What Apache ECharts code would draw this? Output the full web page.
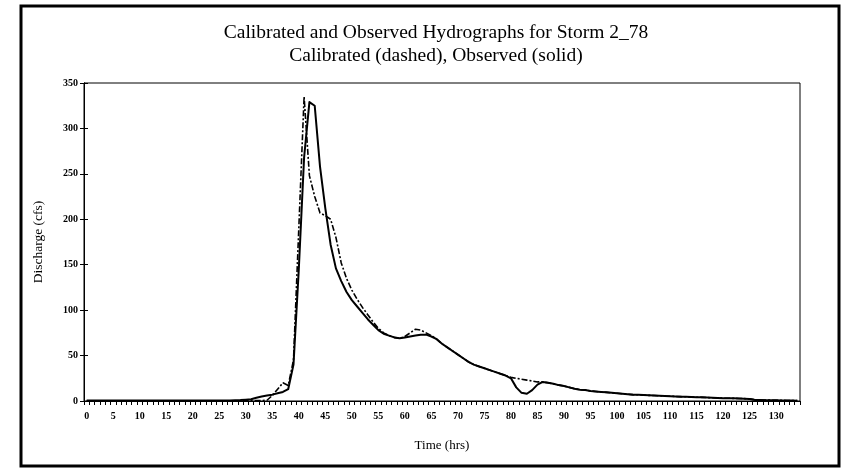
<!DOCTYPE html>
<html>
<head>
<meta charset="utf-8">
<script src="https://cdn.jsdelivr.net/npm/echarts@6/dist/echarts.min.js"></script>
<style>
  html, body { margin: 0; padding: 0; background: #fff; }
  #chart { width: 844px; height: 469px; }
</style>
</head>
<body>
<div id="chart"></div>
<script>
// hours 0..134, one category per hour
const hours = [];
for (let h = 0; h <= 134; h++) hours.push(String(h));

const yTicks = [0, 50, 100, 150, 200, 250, 300, 350];

// Observed hydrograph (solid)
const observed = [
  0.5, 0.5, 0.5, 0.5, 0.5, 0.5, 0.5, 0.5, 0.5, 0.5,
  0.5, 0.5, 0.5, 0.5, 0.5, 0.5, 0.5, 0.5, 0.5, 0.5,
  0.5, 0.5, 0.5, 0.5, 0.5, 0.5, 0.5, 0.5, 0.8, 1,
  1.5, 2, 3.5, 5, 6, 7, 8.5, 10, 13, 40,
  145, 268, 329, 325, 258, 212, 172, 146, 132, 120,
  111, 104, 97, 90, 84, 78, 74, 72, 70, 69,
  70, 71, 72, 73, 73, 71, 68, 63, 59, 55,
  51, 47, 43, 40, 38, 36, 34, 32, 30, 28,
  25, 15, 9, 8, 12, 18, 21, 20, 19, 17.5,
  16.5, 15, 13.5, 12.5, 12, 11, 10.5, 10, 9.5, 9,
  8.5, 8, 7.5, 7, 6.8, 6.5, 6.2, 6, 5.8, 5.5,
  5.3, 5, 4.8, 4.6, 4.4, 4.2, 4, 3.8, 3.5, 3.3,
  3.1, 3, 2.9, 2.8, 2.6, 2.3, 1.2, 1, 0.9, 0.8,
  0.7, 0.6, 0.5, 0.5, 0.4
];

// Calibrated hydrograph (dashed)
const calibrated = [
  0.2, 0.2, 0.2, 0.2, 0.2, 0.2, 0.2, 0.2, 0.2, 0.2,
  0.2, 0.2, 0.2, 0.2, 0.2, 0.2, 0.2, 0.2, 0.2, 0.2,
  0.2, 0.2, 0.2, 0.2, 0.2, 0.2, 0.2, 0.2, 0.2, 0.2,
  0.3, 0.3, 0.4, 0.5, 0.8, 6, 13, 20, 17, 45,
  190, 335, 248, 225, 207, 204, 200, 180, 152, 135,
  122, 112, 103, 95, 87, 80, 75, 72, 70, 69,
  71, 75, 79, 78, 75, 72, 68, 63, 59, 55,
  51, 47, 43, 40, 38, 36, 34, 32, 30, 28,
  26, 25, 24, 23, 22, 21, 21, 20, 19, 17.5,
  16.5, 15, 13.5, 12.5, 12, 11, 10.5, 10, 9.5, 9,
  8.5, 8, 7.5, 7, 6.8, 6.5, 6.2, 6, 5.8, 5.5,
  5.3, 5, 4.8, 4.6, 4.4, 4.2, 4, 3.8, 3.5, 3.3,
  3.1, 3, 2.9, 2.8, 2.6, 2.3, 1.5, 1.2, 1, 0.9,
  0.8, 0.7, 0.6, 0.5, 0.4
];

const serif = '"Liberation Serif", "DejaVu Serif", serif';
const chart = echarts.init(document.getElementById('chart'));

const yBase = {
  type: 'value',
  min: yTicks[0],
  max: yTicks[yTicks.length - 1],
  interval: 50,
  position: 'left',
  splitLine: { show: false },
  axisLine: { show: true, lineStyle: { color: '#000', width: 1 } }
};

chart.setOption({
  animation: false,
  backgroundColor: '#fff',
  title: {
    text: 'Calibrated and Observed Hydrographs for Storm 2_78\nCalibrated (dashed), Observed (solid)',
    left: 431,
    top: 16,
    textAlign: 'center',
    textStyle: {
      fontFamily: serif,
      fontSize: 19.5,
      fontWeight: 'normal',
      color: '#000',
      lineHeight: 23
    }
  },
  graphic: [{
    type: 'rect',
    shape: { x: 21, y: 6, width: 818, height: 460 },
    style: { fill: 'none', stroke: '#000', lineWidth: 3 },
    silent: true
  }],
  grid: {
    left: 84,
    right: 44,
    top: 83,
    bottom: 68,
    show: true,
    borderColor: '#000',
    borderWidth: 1,
    backgroundColor: 'transparent'
  },
  xAxis: {
    type: 'category',
    data: hours,
    boundaryGap: true,
    name: 'Time (hrs)',
    nameLocation: 'middle',
    nameGap: 38,
    nameTextStyle: { fontFamily: serif, fontSize: 13, color: '#000' },
    axisLine: { lineStyle: { color: '#000', width: 1 } },
    axisTick: { show: true, interval: 0, length: 4, lineStyle: { color: '#000' } },
    axisLabel: {
      interval: 4,
      margin: 10,
      fontFamily: serif,
      fontSize: 10,
      fontWeight: 'bold',
      color: '#000'
    },
    splitLine: { show: false }
  },
  yAxis: [
    Object.assign({}, yBase, {
      name: 'Discharge (cfs)',
      nameLocation: 'middle',
      nameGap: 39,
      nameTextStyle: { fontFamily: serif, fontSize: 13.5, color: '#000' },
      axisTick: { show: true, length: 4, lineStyle: { color: '#000' } },
      axisLabel: { margin: 6, fontFamily: serif, fontSize: 10, fontWeight: 'bold', color: '#000' }
    }),
    Object.assign({}, yBase, {
      axisTick: { show: true, inside: true, length: 4, lineStyle: { color: '#000' } },
      axisLabel: { show: false }
    })
  ],
  series: [
    {
      name: 'Calibrated',
      type: 'line',
      data: calibrated,
      yAxisIndex: 0,
      showSymbol: false,
      symbol: 'none',
      lineStyle: { color: '#000', width: 1.6, type: [6, 2, 2, 2] },
      z: 3
    },
    {
      name: 'Observed',
      type: 'line',
      data: observed,
      yAxisIndex: 0,
      showSymbol: false,
      symbol: 'none',
      lineStyle: { color: '#000', width: 2, join: 'round' },
      z: 4
    }
  ]
});
</script>
</body>
</html>
